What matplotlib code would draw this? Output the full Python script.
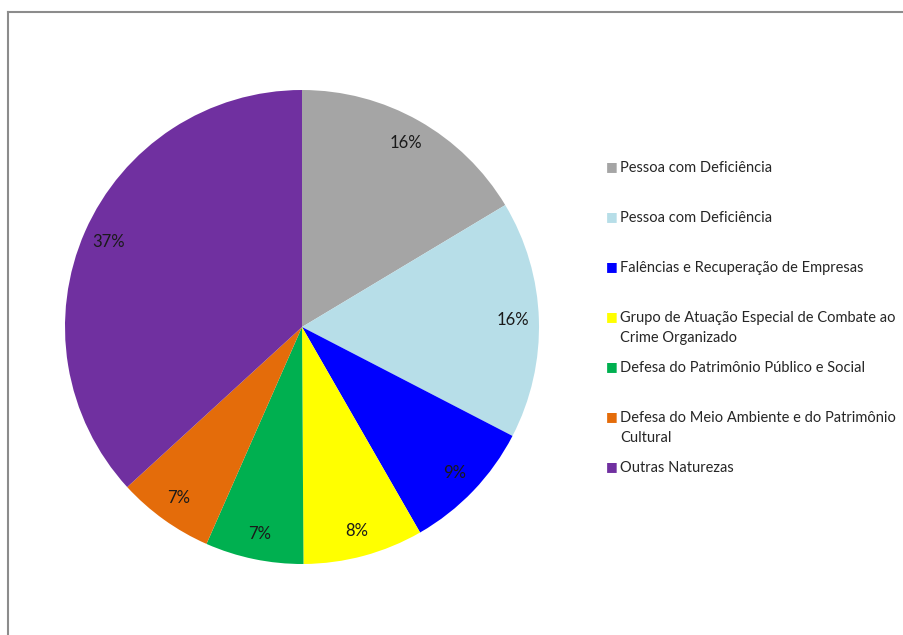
import matplotlib.pyplot as plt
from matplotlib.lines import Line2D

labels = ["Pessoa com Deficiência", "Pessoa com Deficiência",
          "Falências e Recuperação de Empresas",
          "Grupo de Atuação Especial de Combate ao\nCrime Organizado",
          "Defesa do Patrimônio Público e Social",
          "Defesa do Meio Ambiente e do Patrimônio\nCultural",
          "Outras Naturezas"]
values = [16.4, 16.2, 9.1, 8.2, 6.7, 6.6, 36.8]
colors = ["#A5A5A5", "#B7DEE8", "#0000FF", "#FFFF00", "#00B050", "#E46C0A", "#7030A0"]

plt.rcParams['font.family'] = ['Lato', 'DejaVu Sans']

W, H = 904, 635
fig = plt.figure(figsize=(W / 100, H / 100), dpi=100)

# cropped chart border (left and top edges only)
fig.add_artist(Line2D([8 / W, 8 / W], [0, 1 - 12 / H], color="#8C8C8C", lw=1.5))
fig.add_artist(Line2D([8 / W, 1], [1 - 12 / H, 1 - 12 / H], color="#8C8C8C", lw=1.5))

cx, cy, r = 302, 327, 237
ax = fig.add_axes([(cx - r) / W, (H - cy - r) / H, 2 * r / W, 2 * r / H])
wedges, texts, autotexts = ax.pie(values, colors=colors, startangle=90, counterclock=False,
                                  autopct='%.0f%%', pctdistance=0.89,
                                  wedgeprops=dict(linewidth=0),
                                  textprops=dict(fontsize=12, color="#1a1a1a"))
ax.set_xlim(-1, 1)
ax.set_ylim(-1, 1)
ax.set_aspect('equal')

# legend, drawn by hand to mimic the spreadsheet layout
for i, (lab, col) in enumerate(zip(labels, colors)):
    y = 167 + 50 * i
    fig.text(606 / W, 1 - y / H, "■", color=col, fontsize=9, va="center", ha="left",
             family="DejaVu Sans")
    fig.text(620 / W, 1 - (y - 6) / H, lab, fontsize=10.5, va="top", ha="left",
             color="#262626", linespacing=1.5)

fig.savefig("out.png", dpi=100)
